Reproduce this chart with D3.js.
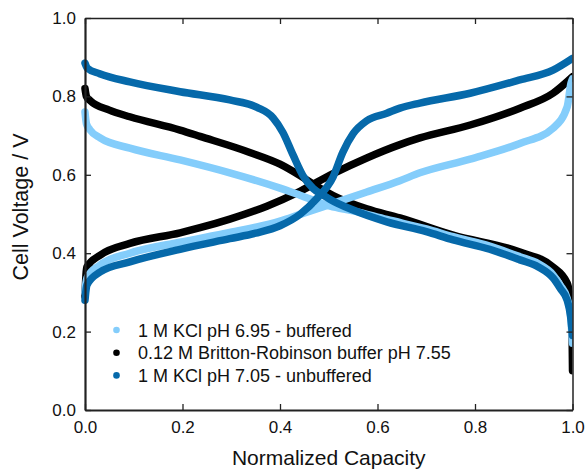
<!DOCTYPE html>
<html>
<head>
<meta charset="utf-8">
<script src="https://cdn.jsdelivr.net/npm/d3@7"></script>
<style>
  html, body { margin: 0; padding: 0; background: #fff; }
  svg { display: block; font-family: "Liberation Sans", Arial, sans-serif; }
</style>
</head>
<body>
<svg id="chart" width="585" height="470"></svg>
<script>
// Normalized capacity (x) and cell voltage (V) for each electrolyte,
// charge (rising) and discharge (falling) branches.
const seriesNames = [
  "1 M KCl pH 6.95 - buffered",
  "0.12 M Britton-Robinson buffer pH 7.55",
  "1 M KCl pH 7.05 - unbuffered"
];
const seriesColors = ["#84cdfb", "#000000", "#0669aa"];

// 1 M KCl pH 6.95 - buffered
const bufDischargeX = [0, 0.003, 0.01, 0.031, 0.092, 0.195, 0.297, 0.4, 0.441, 0.503, 0.55, 0.619, 0.7, 0.755, 0.83, 0.892, 0.93, 0.96, 0.975, 0.989, 0.996, 1.0];
const bufDischargeV = [0.76, 0.73, 0.715, 0.694, 0.668, 0.638, 0.605, 0.566, 0.548, 0.52, 0.508, 0.486, 0.462, 0.442, 0.418, 0.391, 0.373, 0.345, 0.318, 0.285, 0.24, 0.17];
const bufChargeX = [0, 0.002, 0.004, 0.031, 0.092, 0.195, 0.297, 0.4, 0.441, 0.509, 0.578, 0.646, 0.687, 0.79, 0.892, 0.96, 0.989, 0.997, 1.0];
const bufChargeV = [0.30, 0.325, 0.337, 0.37, 0.40, 0.428, 0.453, 0.482, 0.499, 0.527, 0.556, 0.585, 0.605, 0.64, 0.68, 0.719, 0.773, 0.834, 0.845];

// 0.12 M Britton-Robinson buffer pH 7.55
const brDischargeX = [0, 0.003, 0.01, 0.05, 0.092, 0.195, 0.236, 0.338, 0.4, 0.441, 0.476, 0.509, 0.578, 0.646, 0.755, 0.892, 0.96, 0.989, 0.997, 0.9993, 1.0];
const brDischargeV = [0.82, 0.80, 0.79, 0.765, 0.748, 0.714, 0.698, 0.657, 0.627, 0.598, 0.57, 0.547, 0.513, 0.49, 0.446, 0.403, 0.365, 0.324, 0.26, 0.18, 0.10];
const brChargeX = [0, 0.002, 0.004, 0.031, 0.092, 0.195, 0.236, 0.297, 0.373, 0.441, 0.509, 0.578, 0.646, 0.687, 0.79, 0.892, 0.96, 1.0];
const brChargeV = [0.29, 0.345, 0.365, 0.395, 0.425, 0.452, 0.465, 0.487, 0.52, 0.558, 0.603, 0.643, 0.677, 0.694, 0.727, 0.77, 0.808, 0.85];

// 1 M KCl pH 7.05 - unbuffered
const unbDischargeX = [0, 0.005, 0.03, 0.092, 0.195, 0.297, 0.353, 0.386, 0.406, 0.427, 0.447, 0.468, 0.49, 0.503, 0.55, 0.619, 0.7, 0.755, 0.83, 0.892, 0.93, 0.96, 0.975, 0.989, 0.996, 1.0];
const unbDischargeV = [0.885, 0.872, 0.858, 0.837, 0.812, 0.791, 0.772, 0.745, 0.708, 0.65, 0.598, 0.565, 0.547, 0.537, 0.51, 0.48, 0.455, 0.434, 0.41, 0.383, 0.365, 0.337, 0.31, 0.28, 0.24, 0.19];
const unbChargeX = [0, 0.002, 0.004, 0.031, 0.092, 0.195, 0.297, 0.35, 0.4, 0.441, 0.476, 0.509, 0.529, 0.55, 0.578, 0.619, 0.646, 0.687, 0.79, 0.892, 0.96, 1.0];
const unbChargeV = [0.28, 0.305, 0.319, 0.352, 0.378, 0.41, 0.437, 0.451, 0.47, 0.499, 0.54, 0.595, 0.658, 0.705, 0.738, 0.757, 0.77, 0.783, 0.808, 0.842, 0.867, 0.897];

const xTicks = [0, 0.2, 0.4, 0.6, 0.8, 1.0];
const yTicks = [0, 0.2, 0.4, 0.6, 0.8, 1.0];

const curves = [
  { s: 1, x: brDischargeX, v: brDischargeV },
  { s: 1, x: brChargeX, v: brChargeV },
  { s: 0, x: bufDischargeX, v: bufDischargeV },
  { s: 0, x: bufChargeX, v: bufChargeV },
  { s: 2, x: unbDischargeX, v: unbDischargeV },
  { s: 2, x: unbChargeX, v: unbChargeV }
];

const svg = d3.select("#chart");
const plotLeft = 85, plotRight = 572.5, plotTop = 18, plotBottom = 410;

const x = d3.scaleLinear().domain([0, 1]).range([plotLeft, plotRight]);
const y = d3.scaleLinear().domain([0, 1]).range([plotBottom, plotTop]);

svg.append("defs").append("clipPath").attr("id", "plotclip")
  .append("rect").attr("x", plotLeft - 4).attr("y", plotTop)
  .attr("width", plotRight - plotLeft + 4).attr("height", plotBottom - plotTop);

const line = d3.line()
  .x(d => x(d[0]))
  .y(d => y(d[1]))
  .curve(d3.curveMonotoneX);

const plot = svg.append("g").attr("clip-path", "url(#plotclip)");
curves.forEach(c => {
  const pts = c.x.map((xv, i) => [xv, c.v[i]]);
  plot.append("path")
    .attr("d", line(pts))
    .attr("fill", "none")
    .attr("stroke", seriesColors[c.s])
    .attr("stroke-width", 7.5)
    .attr("stroke-linecap", "round")
    .attr("stroke-linejoin", "round");
});

// Axes with inward ticks on all four sides
const axisColor = "#222";
const tickFont = 17;
const fontFamily = '"Liberation Sans", Arial, sans-serif';

const gB = svg.append("g").attr("transform", `translate(0,${plotBottom})`)
  .call(d3.axisBottom(x).tickValues(xTicks).tickFormat(d3.format(".1f")).tickSizeInner(-6).tickSizeOuter(0).tickPadding(11));
const gT = svg.append("g").attr("transform", `translate(0,${plotTop})`)
  .call(d3.axisTop(x).tickValues(xTicks).tickFormat("").tickSizeInner(-6).tickSizeOuter(0));
const gL = svg.append("g").attr("transform", `translate(${plotLeft},0)`)
  .call(d3.axisLeft(y).tickValues(yTicks).tickFormat(d3.format(".1f")).tickSizeInner(-6).tickSizeOuter(0).tickPadding(9));
const gR = svg.append("g").attr("transform", `translate(${plotRight},0)`)
  .call(d3.axisRight(y).tickValues(yTicks).tickFormat("").tickSizeInner(-6).tickSizeOuter(0));

[gB, gT, gL, gR].forEach(g => {
  g.attr("font-family", fontFamily).attr("font-size", tickFont);
  g.select(".domain").attr("stroke", axisColor).attr("stroke-width", 1.5);
  g.selectAll(".tick line").attr("stroke", axisColor).attr("stroke-width", 1.3);
  g.selectAll(".tick text").attr("fill", "#111");
});
gL.select(".domain").attr("stroke-width", 2.2);
gB.select(".domain").attr("stroke-width", 2.2);

// Axis titles
svg.append("text")
  .attr("x", (plotLeft + plotRight) / 2).attr("y", 465)
  .attr("text-anchor", "middle")
  .attr("font-family", fontFamily).attr("font-size", 21).attr("fill", "#111")
  .text("Normalized Capacity");

svg.append("text")
  .attr("transform", "translate(28,207) rotate(-90)")
  .attr("text-anchor", "middle")
  .attr("font-family", fontFamily).attr("font-size", 21.5).attr("fill", "#111")
  .text("Cell Voltage / V");

// Legend
const legend = svg.append("g");
seriesNames.forEach((name, i) => {
  const ly = 330 + i * 22.7;
  legend.append("circle").attr("cx", 116.5).attr("cy", ly).attr("r", 3.3).attr("fill", seriesColors[i]);
  legend.append("text").attr("x", 138).attr("y", ly + 6.5)
    .attr("font-family", fontFamily).attr("font-size", 18).attr("fill", "#111").text(name);
});
</script>
</body>
</html>
